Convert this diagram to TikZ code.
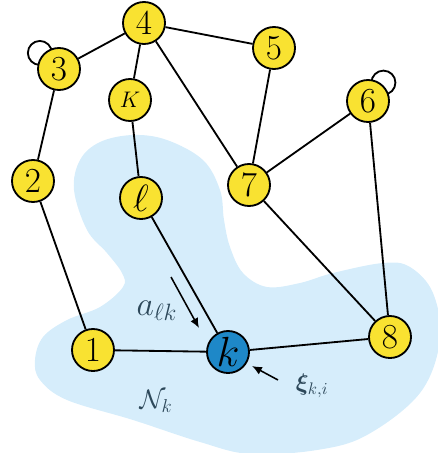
\RequirePackage{fix-cm}
\documentclass[tikz,border=0pt]{standalone}
\usepackage{amsmath, amssymb}
\usepackage{bm}
\usepackage{xcolor}
\usepackage{tikz}
\usetikzlibrary{arrows.meta, positioning, calc, backgrounds}

\definecolor{jaune}{RGB}{249,226,49}
\definecolor{bleuk}{RGB}{30,136,200}
\definecolor{voisin}{RGB}{214,237,251}
\definecolor{ardoise}{RGB}{45,72,90}

\begin{document}
\begin{tikzpicture}[x=0.025cm, y=0.025cm, >={Latex[length=7pt, width=6pt]},
    agent/.style={circle, draw, line width=1.3pt, fill=jaune, minimum size=1.05cm,
                  inner sep=0pt, font=\fontsize{25}{28}\selectfont},
    lien/.style={line width=1.3pt},
    etiq/.style={text=ardoise, font=\fontsize{19}{21}\selectfont}]
  \useasboundingbox (0,0) rectangle (438,-453);

  % Voisinage de k
  \fill[voisin] plot[smooth cycle, tension=0.6] coordinates {
      (133,-135) (167,-140) (203,-160) (220,-190) (224,-220) (230,-247)
      (243,-273) (267,-287) (300,-283) (333,-273) (383,-263) (410,-267)
      (433,-293) (440,-340) (420,-393) (367,-435) (317,-450) (250,-454)
      (200,-442) (133,-420) (67,-400) (40,-380) (35,-360) (43,-337)
      (67,-320) (100,-307) (123,-287) (122,-273) (107,-253) (87,-230)
      (74,-190) (80,-160) (100,-142)
  };

  % Agents
  \node[agent] (n4) at (144,-23) {$4$};
  \node[agent] (n3) at (59,-69) {$3$};
  \node[agent, font=\fontsize{16}{18}\selectfont] (nK) at (130,-100) {$K$};
  \node[agent] (n5) at (274,-48) {$5$};
  \node[agent] (n6) at (368,-101) {$6$};
  \node[agent] (n7) at (249,-185) {$7$};
  \node[agent] (n2) at (33,-181) {$2$};
  \node[agent, font=\fontsize{27}{30}\selectfont] (nl) at (141,-198) {$\ell$};
  \node[agent] (n1) at (93,-350) {$1$};
  \node[agent, fill=bleuk, font=\fontsize{30}{32}\selectfont] (nk) at (228,-352) {$k$};
  \node[agent] (n8) at (390,-337) {$8$};

  % Liens
  \foreach \a/\b in {n4/n3, n4/nK, n4/n5, n4/n7, n3/n2, n2/n1, nK/nl, nl/nk,
                     n5/n7, n6/n7, n6/n8, n7/n8, n1/nk, nk/n8} {
    \draw[lien] (\a) -- (\b);
  }

  % Boucles (sous les agents)
  \begin{scope}[on background layer]
    \draw[lien] ($(n3)+(140:25)$) circle[radius=12];
    \draw[lien] ($(n6)+(50:24)$) circle[radius=12];
  \end{scope}

  % Annotations
  \coordinate (adep) at (171,-277);
  \coordinate (aarr) at (199,-328);
  \coordinate (xdep) at (278,-380);
  \coordinate (xarr) at (252,-366);
  \draw[->, line width=1.1pt] (adep) -- (aarr);
  \draw[->, line width=1.1pt] (xdep) -- (xarr);
  \node[etiq, font=\fontsize{24}{26}\selectfont] (alk) at (157,-311) {$a_{\ell k}$};
  \node[etiq] (Nk) at (156,-401) {$\mathcal{N}_k$};
  \node[etiq, font=\fontsize{17}{19}\selectfont] (xi) at (312,-386) {$\bm{\xi}_{k,i}$};
\end{tikzpicture}
\end{document}
